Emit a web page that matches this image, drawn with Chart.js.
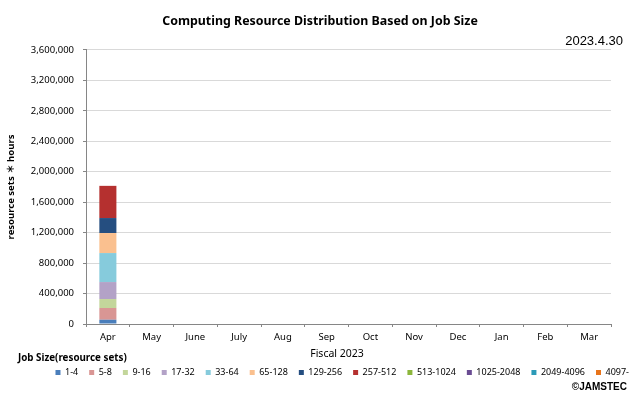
<!DOCTYPE html>
<html lang="en">
<head>
<meta charset="UTF-8">
<title>Computing Resource Distribution Based on Job Size</title>
<script src="https://cdn.jsdelivr.net/npm/chart.js@4.4.0/dist/chart.umd.min.js"></script>
<style>
  html, body { margin: 0; padding: 0; background: #fff; }
</style>
</head>
<body>
<canvas id="chart" width="640" height="395"></canvas>
<script>
    // fiscal year months and job size classes
    var months = ["Apr", "May", "June", "July", "Aug", "Sep", "Oct", "Nov", "Dec", "Jan", "Feb", "Mar"]
    var jobSizes = ["1-4", "5-8", "9-16", "17-32", "33-64", "65-128", "129-256", "257-512", "513-1024", "1025-2048", "2049-4096", "4097-"]
    // resource sets * hours in April, one value per job size (other months have no data yet)
    var aprHours = [56000, 154000, 118000, 223000, 381000, 263000, 197000, 423000, 0, 0, 0, 0]
    var yTicks = [0, 400000, 800000, 1200000, 1600000, 2000000, 2400000, 2800000, 3200000, 3600000]

    var colors = ["#4A7EBB", "#D99694", "#C3D69B", "#B3A2C7", "#86CBDC", "#FAC08F",
                  "#254E80", "#B5302F", "#8CB63C", "#6A4C93", "#2C9AB7", "#E8741A"]

    var datasets = []
    for (var k = 0; k < jobSizes.length; k++) {
        datasets.push({
            label: jobSizes[k],
            data: months.map(function (m) { return m === "Apr" ? aprHours[k] : null }),
            backgroundColor: colors[k],
            borderWidth: 0,
            categoryPercentage: 1,
            barPercentage: 0.39
        })
    }

    var extraText = {
        id: "extraText",
        afterDraw: function (chart) {
            var ctx = chart.ctx
            var area = chart.chartArea
            ctx.save()
            ctx.fillStyle = "#000"
            ctx.textBaseline = "middle"
            ctx.font = "13px 'Liberation Sans'"
            ctx.textAlign = "right"
            ctx.fillText("2023.4.30", area.right + 12, 41)
            ctx.font = "10.5px 'Noto Sans'"
            ctx.textAlign = "center"
            ctx.fillText("Fiscal 2023", 337, 354)
            ctx.font = "bold 9.8px 'Noto Sans'"
            ctx.textAlign = "left"
            ctx.fillText("Job Size(resource sets)", 18, 358)
            ctx.font = "bold 10px 'Liberation Sans'"
            ctx.textAlign = "right"
            ctx.fillText("\u00A9JAMSTEC", 627, 387)
            ctx.restore()
        }
    }

    var chart = new Chart(document.getElementById("chart"), {
        type: "bar",
        data: { labels: months, datasets: datasets },
        options: {
            responsive: false,
            animation: false,
            layout: { padding: { top: 0, left: 0, right: 0, bottom: 8 } },
            plugins: {
                title: {
                    display: true,
                    text: "Computing Resource Distribution Based on Job Size",
                    color: "#000",
                    font: { family: "'Noto Sans'", size: 12.4, weight: "bold" },
                    padding: { top: 14.5, bottom: 20.6 }
                },
                legend: {
                    position: "bottom",
                    align: "end",
                    labels: {
                        boxWidth: 5,
                        boxHeight: 5,
                        padding: 11,
                        color: "#000",
                        font: { family: "'Noto Sans'", size: 9 }
                    }
                },
                tooltip: { enabled: false }
            },
            scales: {
                x: {
                    stacked: true,
                    grid: { drawOnChartArea: false, tickLength: 3, tickColor: "#868686" },
                    border: { color: "#868686" },
                    ticks: { color: "#000", padding: 5, font: { family: "'Noto Sans'", size: 9.5 } },
                    afterFit: function (s) { s.height = 33 }
                },
                y: {
                    stacked: true,
                    min: 0,
                    max: 3600000,
                    grid: { color: "#D9D9D9", tickLength: 3, tickColor: "#868686" },
                    border: { color: "#868686" },
                    afterBuildTicks: function (s) { s.ticks = yTicks.map(function (v) { return { value: v } }) },
                    ticks: {
                        color: "#000",
                        padding: 9,
                        font: { family: "'Noto Sans'", size: 9.5 },
                        callback: function (v) { return v.toLocaleString("en-US") }
                    },
                    title: {
                        display: true,
                        text: "resource sets \uFF0A hours",
                        color: "#000",
                        font: { family: "'Noto Sans', 'Noto Sans CJK JP'", size: 9.5, weight: "bold" },
                        padding: { top: 6, bottom: 0 }
                    },
                    afterFit: function (s) { s.width = 86 }
                },
                pad: {
                    position: "right",
                    display: true,
                    grid: { display: false },
                    border: { display: false },
                    ticks: { display: false },
                    afterFit: function (s) { s.width = 29 }
                }
            }
        },
        plugins: [extraText]
    })
</script>
</body>
</html>
